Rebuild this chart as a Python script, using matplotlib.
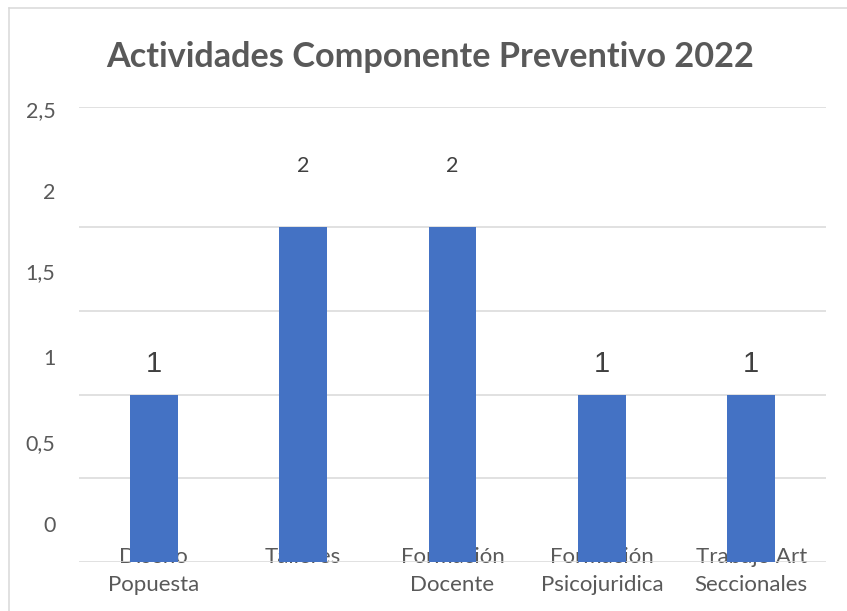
import matplotlib
matplotlib.use("Agg")
import matplotlib.pyplot as plt
from matplotlib.lines import Line2D

categories = ["Diseño\nPopuesta", "Talleres", "Formación\nDocente", "Formación\nPsicojuridica", "Trabajo Art\nSeccionales"]
values = [1, 2, 2, 1, 1]
grid_values = [0, 0.5, 1, 1.5, 2, 2.72]
ytick_labels = ["0", "0,5", "1", "1,5", "2", "2,5"]
ytick_label_pos = [0.228, 0.719, 1.228, 1.737, 2.216, 2.707]
title = "Actividades Componente Preventivo 2022"

W, H = 847, 611
fig = plt.figure(figsize=(W / 100, H / 100), dpi=100)
fig.patch.set_facecolor("white")

ax = fig.add_axes([79 / W, 49 / H, 747 / W, 455 / H])
ax.set_axisbelow(True)
x = list(range(len(categories)))
bars = ax.bar(x, values, width=0.32, color="#4472C4", zorder=3)
ax.set_xlim(-0.5, len(categories) - 0.5)
ax.set_ylim(0, grid_values[-1])

for s in ax.spines.values():
    s.set_visible(False)

ax.set_yticks(grid_values)
ax.set_yticklabels([])
ax.tick_params(axis="y", which="major", length=0)
ax.set_yticks(ytick_label_pos, minor=True)
ax.set_yticklabels(ytick_labels, minor=True, fontsize=15.5, color="#595959", family="Lato")
ax.tick_params(axis="y", which="minor", length=0, pad=17)
ax.grid(axis="y", which="major", color="#d9d9d9", linewidth=1.1)

ax.set_xticks(x)
ax.set_xticklabels(categories, fontsize=16, color="#595959", family="Lato", linespacing=1.5)
ax.tick_params(axis="x", length=0, pad=-11)

for rect, v in zip(bars, values):
    cx = rect.get_x() + rect.get_width() / 2
    if v == 1:
        ax.annotate(str(v), (cx, v), xytext=(0, 22), textcoords="offset points",
                    ha="center", va="center", fontsize=21, color="#404040",
                    family="Liberation Sans", zorder=4)
    else:
        ax.annotate(str(v), (cx, v), xytext=(0, 44), textcoords="offset points",
                    ha="center", va="center", fontsize=15.5, color="#404040",
                    family="Lato", zorder=4)

fig.text(430 / W, 1 - 57 / H, title, ha="center", va="center", fontsize=24.7,
         fontweight="bold", color="#595959", family="Lato")

fig.add_artist(Line2D([8.5 / W, 8.5 / W], [0, 1 - 8 / H], transform=fig.transFigure,
                      color="#d9d9d9", linewidth=1.1))
fig.add_artist(Line2D([8.5 / W, 1], [1 - 8 / H, 1 - 8 / H], transform=fig.transFigure,
                      color="#d9d9d9", linewidth=1.1))

fig.savefig("out.png", dpi=100)
